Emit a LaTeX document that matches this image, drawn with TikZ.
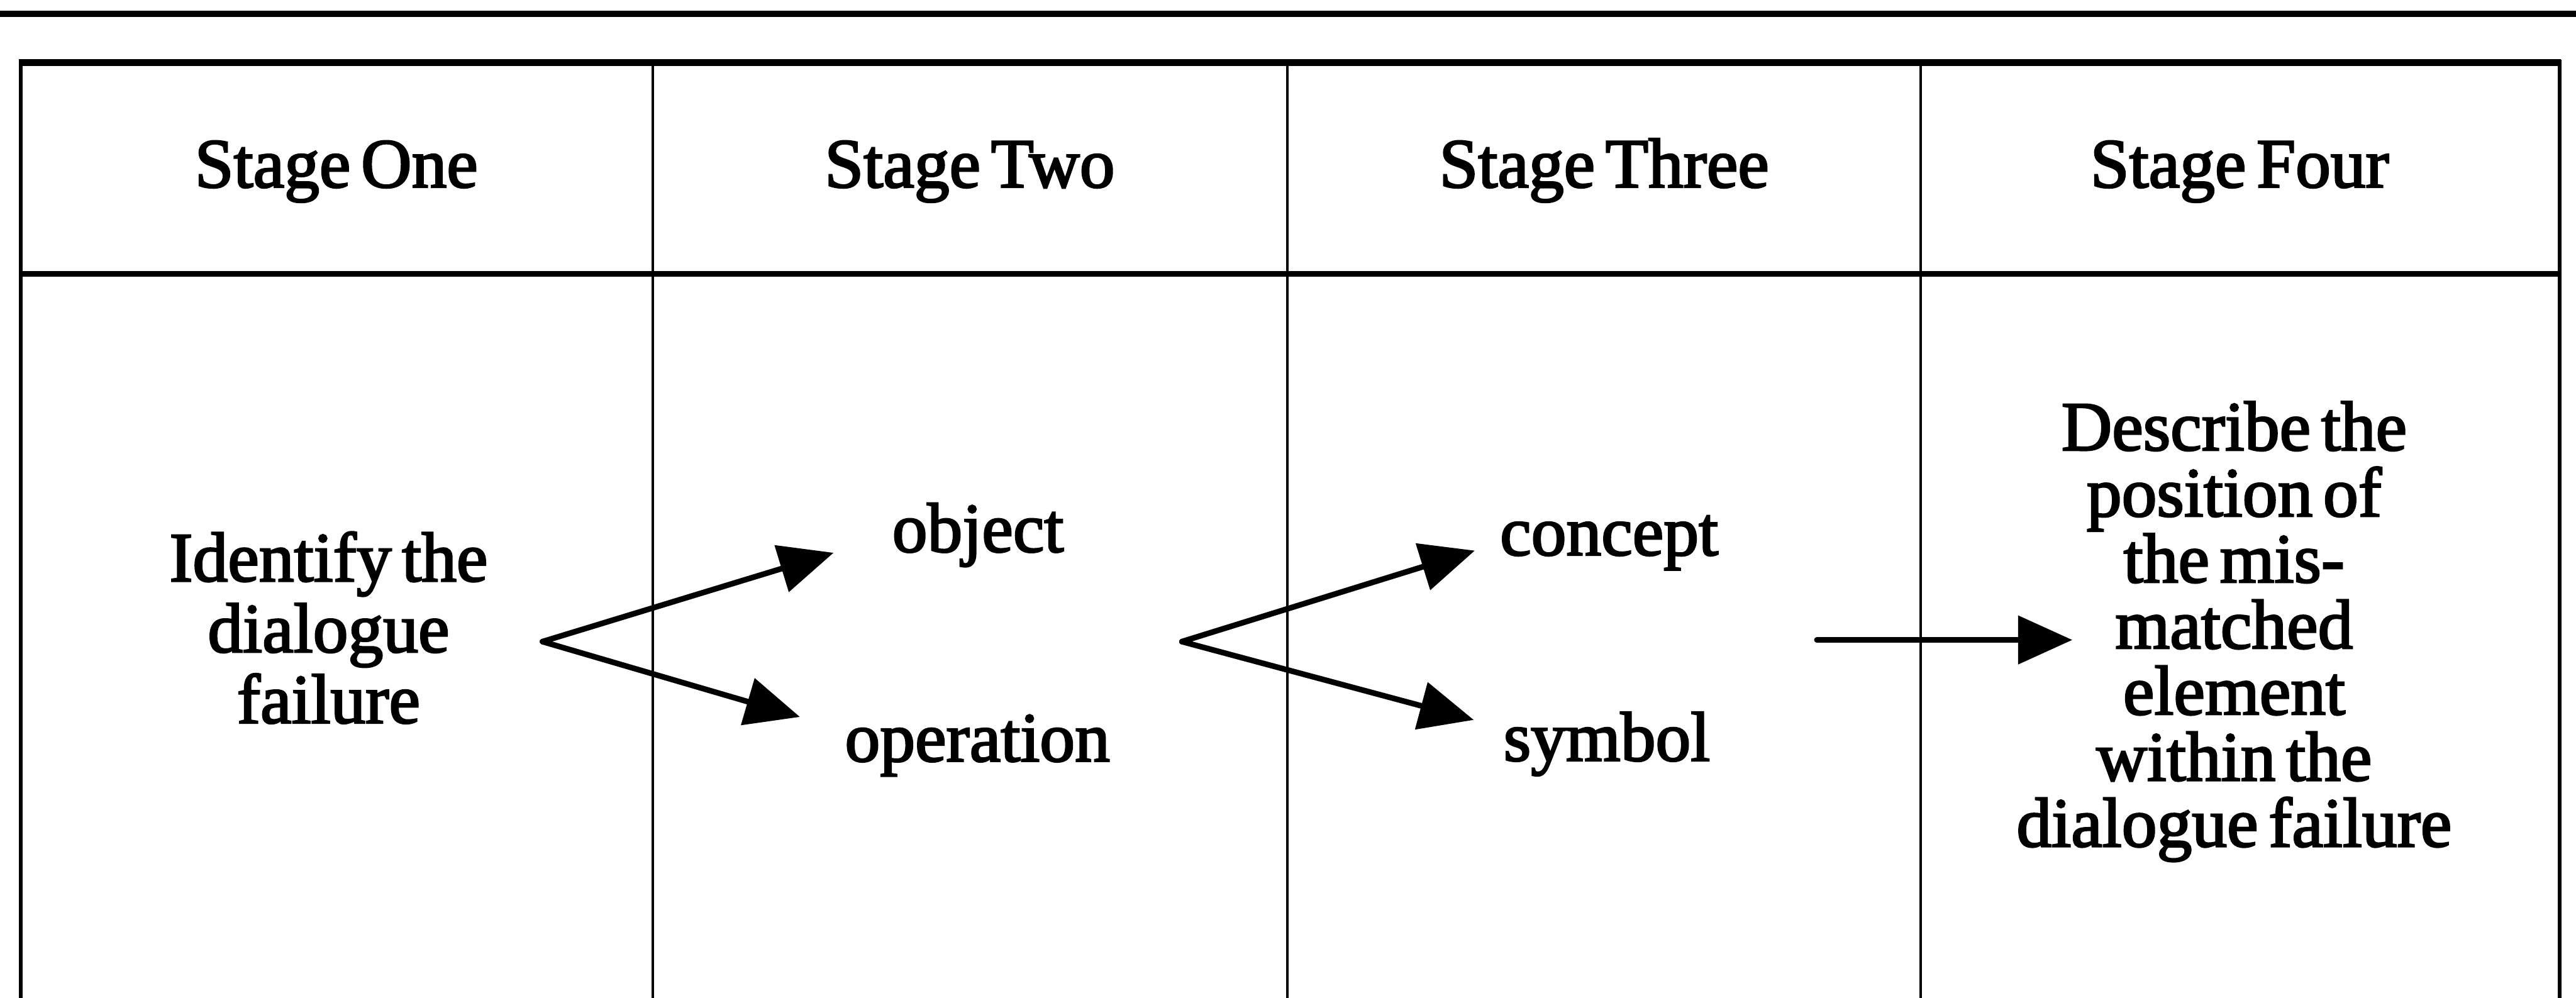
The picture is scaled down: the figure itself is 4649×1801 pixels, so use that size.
\documentclass[tikz,border=0pt]{standalone}
\usepackage{fontspec}
\setmainfont{Liberation Serif}
\newfontfamily\stagefont{Liberation Serif}[FakeBold=2.5]
\usetikzlibrary{arrows.meta,calc}
\newcommand{\stagetype}[1]{\stagefont\fontsize{36}{#1}\selectfont\spaceskip=.15em\relax}

\begin{document}
\begin{tikzpicture}[
    x=0.01cm, y=-0.01cm,
    stage/.style={anchor=base, inner sep=0pt, font=\stagetype{34}},
    entry/.style={inner sep=0pt, align=center, font=\stagetype{34}},
    topline/.style={line width=3.3pt},
    midline/.style={line width=2.8pt},
    edgeline/.style={line width=2pt},
    divider/.style={line width=1.3pt},
    arrow/.style={-{Triangle[length=0.98cm,width=0.86cm]}, line width=2.9pt, line cap=round}
]
    \useasboundingbox (0,0) rectangle (4649,1801);

    % Rules and table frame (open at the bottom)
    \draw[topline] (0,25) -- (4649,25);
    \draw[topline] (34,113) -- (4622,113);
    \draw[midline] (37,494) -- (4619,494);
    \draw[edgeline] (37,108) -- (37,1801);
    \draw[edgeline] (4619,108) -- (4619,1801);
    \draw[divider] (1178,113) -- (1178,1801);
    \draw[divider] (2323,113) -- (2323,1801);
    \draw[divider] (3466,113) -- (3466,1801);

    % Header row
    \node[stage] (one)   at (607,338)  {Stage One};
    \node[stage] (two)   at (1750,338) {Stage Two};
    \node[stage] (three) at (2895,338) {Stage Three};
    \node[stage] (four)  at (4042,338) {Stage Four};

    % Body
    \node[entry, font=\stagetype{36.4}] (identify) at (593,1133) {Identify the\\dialogue\\failure};
    \node[entry, anchor=base] (object)    at (1765,996)  {object};
    \node[entry, anchor=base] (operation) at (1764,1374) {operation};
    \node[entry, anchor=base] (concept)   at (2904,1002) {concept};
    \node[entry, anchor=base] (symbol)    at (2900,1373) {symbol};
    \node[entry, font=\stagetype{33.9}] (describe) at (4032,1140)
        {Describe the\\position of\\the mis-\\matched\\element\\within the\\dialogue failure};

    % Branch points
    \coordinate (fork1) at (979,1158);
    \coordinate (fork2) at (2133,1158);
    \coordinate (lead) at (3279,1155);
    \coordinate (leadend) at (3740,1155);

    % Edges
    \draw[arrow, shorten >=1.1cm] (fork1) -- (object.west);
    \draw[arrow, shorten >=0.84cm] (fork1) -- ($(operation.west)!0.5!(operation.north west)$);
    \draw[arrow, shorten >=0.47cm] (fork2) -- (concept.west);
    \draw[arrow, shorten >=0.55cm] (fork2) -- ($(symbol.west)!0.5!(symbol.north west)$);
    \draw[arrow] (lead) -- (leadend);
\end{tikzpicture}
\end{document}
